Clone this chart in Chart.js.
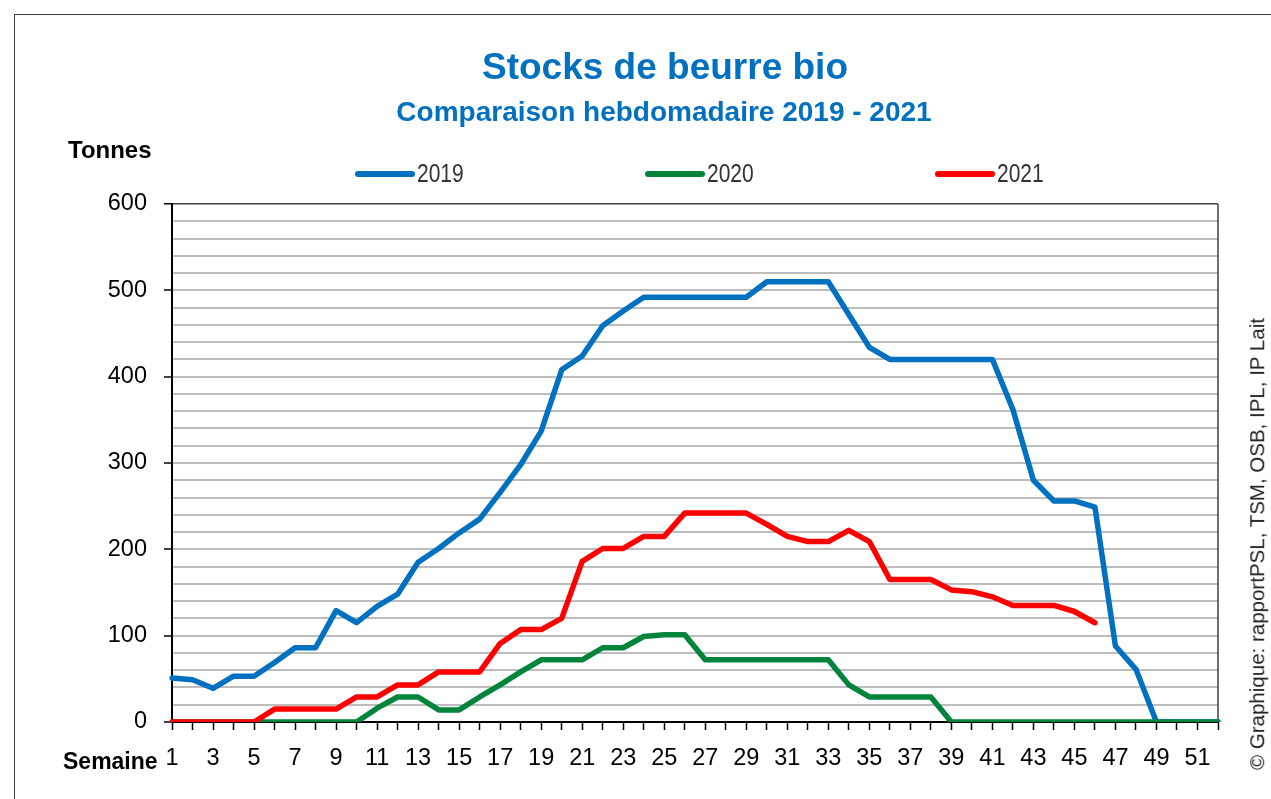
<!DOCTYPE html>
<html><head><meta charset="utf-8">
<script src="https://cdn.jsdelivr.net/npm/chart.js@4.4.1/dist/chart.umd.min.js"></script>
<style>
html,body{margin:0;padding:0;background:#fff;}
body{width:1271px;height:799px;overflow:hidden;position:relative;font-family:"Liberation Sans",Arial,sans-serif;}
#frame{position:absolute;left:14px;top:14px;width:1400px;height:900px;border:1.5px solid #3c3c3c;box-sizing:border-box;}
#wrap{position:absolute;left:0;top:0;width:1271px;height:799px;}
.txt{position:absolute;white-space:nowrap;line-height:1;}
#title{left:665px;top:47.7px;transform:translateX(-50%);font-size:37px;font-weight:bold;color:#0070C0;}
#subtitle{left:664px;top:98.3px;transform:translateX(-50%);font-size:28px;font-weight:bold;color:#0070C0;}
#ylab{left:68px;top:137.7px;font-size:24px;font-weight:bold;color:#000;}
#xlab{left:63px;top:749.5px;font-size:23px;font-weight:bold;color:#000;}
#copy{left:1257px;top:544px;transform:translate(-50%,-50%) rotate(-90deg);font-size:20.5px;color:#222;line-height:1.15;}
.lg-line{position:absolute;height:5.5px;border-radius:3px;}
.lg-text{position:absolute;line-height:1;color:#333;white-space:nowrap;}
</style></head><body>
<div id="frame"></div>
<div id="wrap"><canvas id="c" width="1271" height="799"></canvas></div>
<div class="txt" id="title">Stocks de beurre bio</div>
<div class="txt" id="subtitle">Comparaison hebdomadaire 2019 - 2021</div>
<div class="txt" id="ylab">Tonnes</div>
<div class="txt" id="xlab">Semaine</div>
<div class="txt" id="copy">© Graphique: rapportPSL, TSM, OSB, IPL, IP Lait</div>
<div id="legend"></div>
<script>
// ---- data ----
const weeks = Array.from({length: 52}, (_, i) => String(i + 1));
const seriesNames = ['2019', '2020', '2021'];
const values2019 = [51,49,39,53,53,69,86,86,129,115,134,148,185,201,219,235,266,298,337,408,424,459,476,492,492,492,492,492,492,510,510,510,510,472,434,420,420,420,420,420,420,362,280,256,256,249,88,61,0,0,0,0];
const values2020 = [0,0,0,0,0,0,0,0,0,0,16,29,29,14,14,29,43,58,72,72,72,86,86,99,101,101,72,72,72,72,72,72,72,43,29,29,29,29,0,0,0,0,0,0,0,0,0,0,0,0,0,0];
const values2021 = [0,0,0,0,0,15,15,15,15,29,29,43,43,58,58,58,91,107,107,120,186,201,201,215,215,242,242,242,242,229,215,209,209,222,209,165,165,165,153,151,145,135,135,135,128,115,null,null,null,null,null,null];
const seriesColors = ['#0070C0', '#00843C', '#FF0000'];
const yMin = 0, yMax = 600, yMinorStep = 20, yMajorStep = 100;

// ---- font detection ----
function hasFont(f){
  const c = document.createElement('canvas').getContext('2d');
  c.font = '40px monospace'; const a = c.measureText('2019 abcW').width;
  c.font = '40px "' + f + '", monospace'; const b = c.measureText('2019 abcW').width;
  return a !== b;
}
const NARROW = hasFont('Liberation Sans Narrow');
const tickFont = NARROW ? {family:'"Liberation Sans Narrow"', size:26} : {family:'"Liberation Sans"', size:23.5};

// ---- legend (HTML) ----
const legendX = [355, 645, 935];
const lg = document.getElementById('legend');
seriesNames.forEach((n, i) => {
  const l = document.createElement('div');
  l.className = 'lg-line';
  l.style.left = legendX[i] + 'px'; l.style.top = '171.3px'; l.style.width = '60px';
  l.style.background = seriesColors[i];
  lg.appendChild(l);
  const t = document.createElement('div');
  t.className = 'lg-text';
  t.textContent = n;
  t.style.left = (legendX[i] + 62) + 'px';
  t.style.top = '161.3px';
  t.style.fontSize = '25.6px';
  if (NARROW) { t.style.fontFamily = '"Liberation Sans Narrow"'; }
  else { t.style.fontFamily = '"Liberation Sans"'; t.style.transform = 'scaleX(0.82)'; t.style.transformOrigin = 'left center'; }
  lg.appendChild(t);
});

const frameRight = {
  id: 'frameRight',
  beforeDatasetsDraw(chart) {
    const {ctx, chartArea: a} = chart;
    ctx.save();
    ctx.strokeStyle = '#404040'; ctx.lineWidth = 1.5;
    ctx.beginPath(); ctx.moveTo(a.right, a.top); ctx.lineTo(a.right, a.bottom); ctx.stroke();
    ctx.restore();
  }
};

const allValues = [values2019, values2020, values2021];
new Chart(document.getElementById('c'), {
  type: 'line',
  data: {
    labels: weeks,
    datasets: seriesNames.map((n, i) => ({
      label: n,
      data: allValues[i],
      borderColor: seriesColors[i],
      backgroundColor: seriesColors[i],
      borderWidth: 5.5,
      pointRadius: 0,
      tension: 0,
      fill: false,
      borderJoinStyle: 'round',
      borderCapStyle: 'round',
      order: 3 - i
    }))
  },
  options: {
    responsive: false,
    animation: false,
    devicePixelRatio: 1,
    layout: {padding: {top: 204, right: 53, bottom: 27, left: 0}},
    plugins: {legend: {display: false}, tooltip: {enabled: false}, title: {display: false}},
    scales: {
      x: {
        type: 'category',
        offset: false,
        afterFit(s) { s.height = 50; },
        grid: {display: true, drawOnChartArea: false, drawTicks: true, tickLength: 8, tickColor: '#000', tickWidth: 1.5},
        border: {display: true, color: '#000', width: 2},
        ticks: {
          autoSkip: false, maxRotation: 0, minRotation: 0, padding: 14,
          color: '#000', font: tickFont,
          callback: function(v, i) { return i % 2 === 0 ? this.getLabelForValue(v) : ''; }
        }
      },
      y: {
        min: yMin, max: yMax,
        afterFit(s) { s.width = 172; },
        grid: {
          display: true, drawOnChartArea: true, drawTicks: true, tickLength: 8,
          color: c => c.tick.value === yMax ? '#404040' : (c.tick.value === yMin ? 'rgba(0,0,0,0)' : '#BDBDBD'),
          lineWidth: c => c.tick.value === yMax ? 1.5 : 2,
          tickColor: c => c.tick.value % yMajorStep === 0 ? '#000' : 'rgba(0,0,0,0)',
          tickWidth: 1.5
        },
        border: {display: true, color: '#000', width: 2},
        ticks: {
          stepSize: yMinorStep, autoSkip: false, maxTicksLimit: 100, padding: 17,
          color: '#000', font: tickFont,
          callback: v => v % yMajorStep === 0 ? String(v) : ''
        }
      }
    }
  },
  plugins: [frameRight]
});
</script>
</body></html>
